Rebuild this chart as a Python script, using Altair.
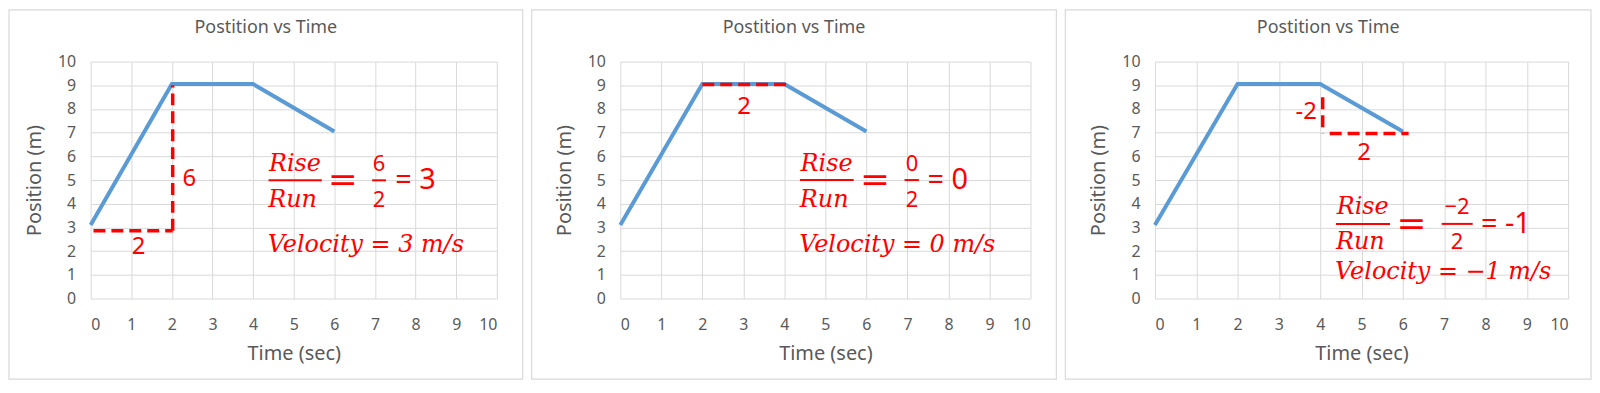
import altair as alt
import pandas as pd

# ---------------- data ----------------
time_s = [0, 2, 4, 6]
position_m = [3.1, 9.05, 9.05, 7.05]

chart_title = "Postition vs Time"
x_title = "Time (sec)"
y_title = "Position (m)"
x_ticks = list(range(0, 11))
y_ticks = list(range(0, 11))

# dashed rise / run legs per panel: (x1, y1, x2, y2) in data units
legs = [
    [(0.07, 2.86, 2.02, 2.86), (2.02, 2.86, 2.02, 9.0)],
    [(2.0, 9.03, 4.05, 9.03)],
    [(4.06, 8.49, 4.06, 6.97), (4.23, 6.97, 6.14, 6.97)],
]
# labels next to the legs: (x, y, text)
leg_labels = [
    [(2.43, 5.05, "6"), (1.18, 2.16, "2")],
    [(3.02, 8.08, "2")],
    [(3.66, 7.87, "-2"), (5.06, 6.12, "2")],
]
# slope equation pieces
eq_rise = ["Rise", "Rise", "Rise"]
eq_run = ["Run", "Run", "Run"]
eq_num = ["6", "0", "\u22122"]
eq_den = ["2", "2", "2"]
eq_result = ["= 3", "= 0", "= -1"]
velocity_text = ["Velocity = 3 m/s", "Velocity = 0 m/s", "Velocity = \u22121 m/s"]
# anchor points of the equation (data units)
eq_bar_y = [4.99, 5.0, 3.15]
eq_rise_y = [5.69, 5.69, 3.88]
eq_run_y = [4.16, 4.17, 2.37]
eq_num_x = [7.10, 7.11, 7.31]
eq_num_bar = [(6.93, 7.27), (6.93, 7.28), (6.94, 7.69)]
eq_result_x = [7.50, 7.49, 7.89]
velocity_y = [2.26, 2.26, 1.13]

# panel geometry
plot_w = [408, 412, 415]
frame_left = [82, 89, 90]
frame_right = [26, 26, 23]
plot_h = 238
frame_top = 52
frame_bottom = 81

BLUE = "#5b9bd5"
RED = "#ff0000"
GRAY_TXT = "#595959"
GRID = "#d9d9d9"
SANS = "Noto Sans"
SERIF = "DejaVu Serif"


def X(field):
    return alt.X(field, type="quantitative",
                 scale=alt.Scale(domain=[0, 10], nice=False, zero=False),
                 axis=alt.Axis(values=x_ticks, title=x_title))


def Y(field):
    return alt.Y(field, type="quantitative",
                 scale=alt.Scale(domain=[0, 10], nice=False, zero=False),
                 axis=alt.Axis(values=y_ticks, title=y_title))


def panel(i):
    W = plot_w[i]
    H = plot_h
    frame = alt.Chart(pd.DataFrame({"a": [0]})).mark_rect(
        fillOpacity=0, stroke=GRID, strokeWidth=1.2
    ).encode(
        x=alt.value(-frame_left[i]), x2=alt.value(W + frame_right[i]),
        y=alt.value(-frame_top), y2=alt.value(H + frame_bottom),
    )
    title = alt.Chart(pd.DataFrame({"label": [chart_title]})).mark_text(
        font=SANS, fontSize=18, color=GRAY_TXT, baseline="middle"
    ).encode(
        text="label:N",
        x=alt.value((W + frame_right[i] - frame_left[i]) / 2),
        y=alt.value(-34),
    )
    line = alt.Chart(pd.DataFrame({"x": time_s, "y": position_m})).mark_line(
        color=BLUE, strokeWidth=4
    ).encode(x=X("x"), y=Y("y"))

    leg_df = pd.DataFrame(legs[i], columns=["x", "y", "x2", "y2"])
    dashed = alt.Chart(leg_df).mark_rule(
        color=RED, strokeWidth=3.5, strokeDash=[12, 6]
    ).encode(x=X("x"), y=Y("y"), x2="x2:Q", y2="y2:Q")

    lab_df = pd.DataFrame(leg_labels[i], columns=["x", "y", "t"])
    labels = alt.Chart(lab_df).mark_text(
        font=SANS, fontSize=24, color=RED, baseline="middle", align="center"
    ).encode(x=X("x"), y=Y("y"), text="t:N")

    rr_df = pd.DataFrame({
        "x": [5.03, 4.97],
        "y": [eq_rise_y[i], eq_run_y[i]],
        "t": [eq_rise[i], eq_run[i]],
    })
    rise_run = alt.Chart(rr_df).mark_text(
        font=SERIF, fontStyle="italic", fontSize=24, color=RED,
        baseline="middle", align="center"
    ).encode(x=X("x"), y=Y("y"), text="t:N")

    bars_df = pd.DataFrame({
        "x": [4.38, eq_num_bar[i][0]],
        "x2": [5.69, eq_num_bar[i][1]],
        "y": [eq_bar_y[i], eq_bar_y[i]],
    })
    bars = alt.Chart(bars_df).mark_rule(color=RED, strokeWidth=2).encode(
        x=X("x"), x2="x2:Q", y=Y("y")
    )

    eq_df = pd.DataFrame({"x": [6.21], "y": [eq_bar_y[i]], "t": ["="]})
    big_eq = alt.Chart(eq_df).mark_text(
        font=SERIF, fontSize=36, color=RED, baseline="middle", align="center"
    ).encode(x=X("x"), y=Y("y"), text="t:N")

    nd_df = pd.DataFrame({
        "x": [eq_num_x[i], eq_num_x[i]],
        "y": [eq_rise_y[i], eq_run_y[i]],
        "t": [eq_num[i], eq_den[i]],
    })
    num_den = alt.Chart(nd_df).mark_text(
        font=SANS, fontSize=22, color=RED, baseline="middle", align="center"
    ).encode(x=X("x"), y=Y("y"), text="t:N")

    res_df = pd.DataFrame({"x": [eq_result_x[i]], "y": [eq_bar_y[i]], "t": [eq_result[i]]})
    result = alt.Chart(res_df).mark_text(
        font=SANS, fontSize=29, color=RED, baseline="middle", align="left"
    ).encode(x=X("x"), y=Y("y"), text="t:N")

    vel_df = pd.DataFrame({"x": [4.36], "y": [velocity_y[i]], "t": [velocity_text[i]]})
    velocity = alt.Chart(vel_df).mark_text(
        font=SERIF, fontStyle="italic", fontSize=24, color=RED,
        baseline="middle", align="left"
    ).encode(x=X("x"), y=Y("y"), text="t:N")

    return alt.layer(
        frame, title, line, dashed, labels, rise_run, bars, big_eq,
        num_den, result, velocity
    ).properties(width=W, height=H)


chart = alt.hconcat(panel(0), panel(1), panel(2), spacing=7).properties(
    padding=0
).configure_view(stroke=None).configure_axis(
    grid=True, gridColor=GRID, gridWidth=1,
    domain=False, ticks=False, tickSize=0,
    labelFont=SANS, labelFontSize=16, labelColor=GRAY_TXT,
    titleFont=SANS, titleFontSize=20, titleColor=GRAY_TXT, titleFontWeight="normal",
).configure_axisX(
    labelPadding=18, titlePadding=11
).configure_axisY(
    labelPadding=15, titlePadding=13
)

chart.save("out.html", embed_options={"renderer": "svg", "actions": False})
